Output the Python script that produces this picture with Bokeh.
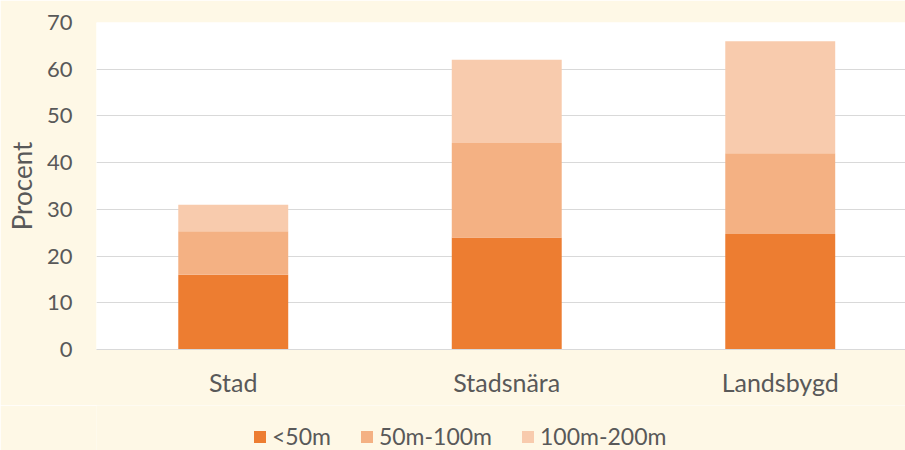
from bokeh.plotting import figure
from bokeh.layouts import column
from bokeh.models import Range1d, FixedTicker, Legend, LegendItem, ColumnDataSource
from bokeh.embed import file_html
from bokeh.resources import INLINE

categories = ["Stad", "Stadsnära", "Landsbygd"]
under_50 = [16.0, 24.0, 24.7]
m50_100 = [9.3, 20.2, 17.3]
m100_200 = [5.7, 17.8, 24.0]
series_names = ["<50m", "50m-100m", "100m-200m"]
y_ticks = [0, 10, 20, 30, 40, 50, 60, 70]

colors = ["#ED7D31", "#F4B183", "#F8CBAD"]
FONT = "Lato"
TXT = "#595959"
BG = "#FEF8E6"

xs = list(range(len(categories)))
src = ColumnDataSource(dict(x=xs, s0=under_50, s1=m50_100, s2=m100_200))

p = figure(width=905, height=405, x_range=Range1d(-0.5, 2.458), y_range=Range1d(0, 70),
           output_backend="svg", toolbar_location=None,
           min_border_left=96, min_border_right=0, min_border_top=22, min_border_bottom=56,
           background_fill_color="white", border_fill_color=BG, outline_line_color=None)

rs = p.vbar_stack(["s0", "s1", "s2"], x="x", width=0.402, source=src, color=colors,
                  line_color=None)

p.xgrid.grid_line_color = None
p.ygrid.grid_line_color = "#D9D9D9"
p.ygrid.grid_line_width = 1
p.yaxis.ticker = FixedTicker(ticks=y_ticks)
p.xaxis.ticker = FixedTicker(ticks=xs)
p.xaxis.major_label_overrides = {i: c for i, c in enumerate(categories)}

for ax in (p.xaxis[0], p.yaxis[0]):
    ax.major_tick_line_color = None
    ax.minor_tick_line_color = None
    ax.major_tick_out = 0
    ax.major_tick_in = 0
    ax.minor_tick_out = 0
    ax.minor_tick_in = 0
    ax.major_label_text_font = FONT
    ax.major_label_text_color = TXT
p.yaxis.major_label_text_font_size = "22px"
p.xaxis.major_label_text_font_size = "25px"
p.yaxis.axis_line_color = None
p.xaxis.axis_line_color = "#D9D9D9"
p.xaxis.major_label_standoff = 17
p.yaxis.major_label_standoff = 24
p.yaxis.axis_label = "Procent"
p.yaxis.axis_label_text_font = FONT
p.yaxis.axis_label_text_font_size = "26px"
p.yaxis.axis_label_text_font_style = "normal"
p.yaxis.axis_label_text_color = TXT
p.yaxis.axis_label_standoff = 6

# legend strip below the chart (its bars sit outside the visible range)
lg = figure(width=905, height=45, x_range=p.x_range, y_range=Range1d(1000, 1001),
            output_backend="svg", toolbar_location=None,
            x_axis_type=None, y_axis_type=None,
            min_border_left=96, min_border_right=0, min_border_top=0, min_border_bottom=0,
            background_fill_color=BG, border_fill_color=BG, outline_line_color=None)
lg.xgrid.grid_line_color = None
lg.ygrid.grid_line_color = None
legend_renderers = lg.vbar_stack(["s0", "s1", "s2"], x="x", width=0.402, source=src,
                                 color=colors, line_color=None)

legend = Legend(items=[LegendItem(label=n, renderers=[r]) for n, r in zip(series_names, legend_renderers)],
                orientation="horizontal", location=(156, 0),
                background_fill_alpha=0, border_line_color=None,
                label_text_font=FONT, label_text_font_size="23px", label_text_color=TXT,
                glyph_width=15, glyph_height=15, label_height=20, label_standoff=5,
                spacing=28, padding=0, margin=0)
lg.add_layout(legend)

layout = column(p, lg, spacing=0)
open("out.html", "w").write(file_html(layout, INLINE))
